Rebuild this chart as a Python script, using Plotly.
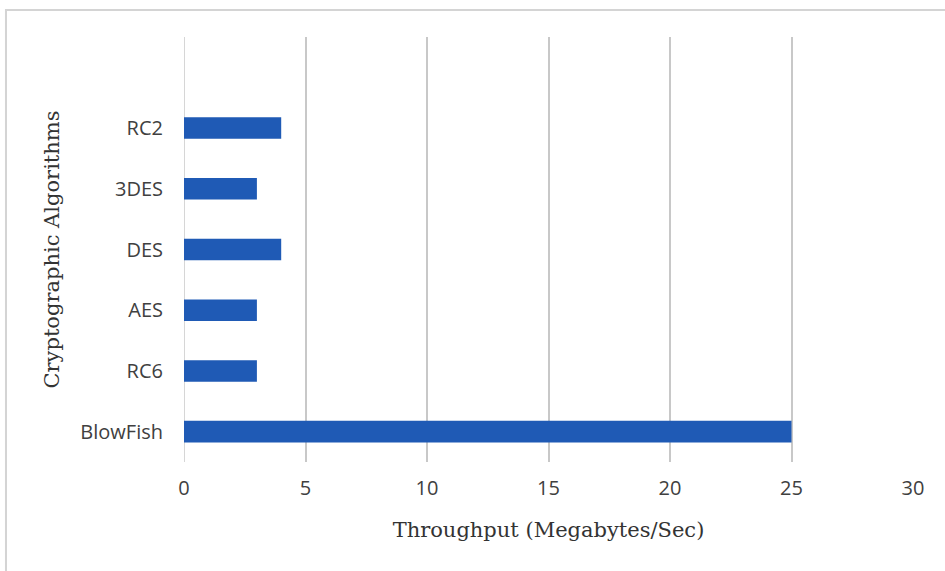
import plotly.graph_objects as go

# Throughput per cryptographic algorithm (MB/s), listed bottom to top
algorithms = ["BlowFish", "RC6", "AES", "DES", "3DES", "RC2"]
throughput = [25, 3, 3, 4, 3, 4]
x_ticks = [0, 5, 10, 15, 20, 25, 30]

fig = go.Figure(
    go.Bar(
        x=throughput,
        y=algorithms,
        orientation="h",
        width=0.355,
        marker=dict(color="#1f5ab5", line=dict(width=0)),
        hoverinfo="x+y",
    )
)

tick_font = dict(family="Open Sans, Noto Sans, sans-serif", size=20, color="#404040")
title_font = dict(family="DejaVu Serif, Liberation Serif, serif", size=21, color="#333333")

fig.update_layout(
    width=945,
    height=571,
    margin=dict(l=184, r=32, t=37, b=109),
    paper_bgcolor="white",
    plot_bgcolor="white",
    showlegend=False,
    xaxis=dict(
        range=[0, 30],
        tickvals=x_ticks,
        showgrid=True,
        gridcolor="#c8c8c8",
        gridwidth=1.5,
        zeroline=False,
        showline=False,
        ticks="",
        tickfont=tick_font,
        ticklabelstandoff=12,
        title=dict(text="Throughput (Megabytes/Sec)", font=title_font, standoff=22),
    ),
    yaxis=dict(
        type="category",
        categoryorder="array",
        categoryarray=algorithms,
        range=[-0.5, 6.5],
        showgrid=False,
        zeroline=False,
        showline=False,
        ticks="",
        tickfont=tick_font,
        ticklabelstandoff=20,
        title=dict(text="Cryptographic Algorithms", font=title_font, standoff=14),
    ),
    shapes=[
        # vertical line at x = 0
        dict(type="line", xref="x", yref="paper", x0=0, x1=0, y0=0, y1=1,
             line=dict(color="#c8c8c8", width=1.5), layer="below"),
        # light frame around the chart
        dict(type="rect", xref="paper", yref="paper",
             x0=-0.2442, x1=1.06, y0=-0.30, y1=1.0635,
             line=dict(color="#d4d4d4", width=2), fillcolor="rgba(0,0,0,0)"),
    ],
)

fig.write_html("out.html")
